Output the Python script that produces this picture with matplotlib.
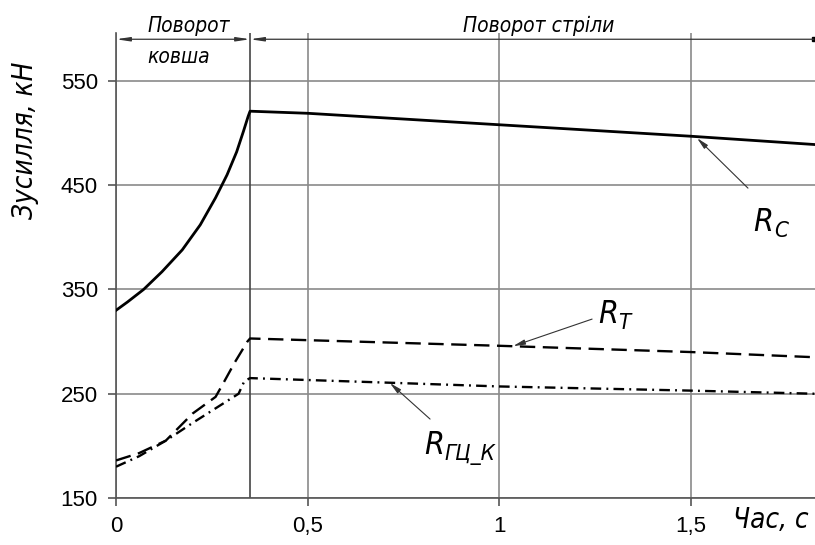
import matplotlib.pyplot as plt
from matplotlib import font_manager

# ---- data ----
t_rc = [0, 0.03, 0.072, 0.12, 0.173, 0.22, 0.26, 0.29, 0.315, 0.333, 0.345, 0.35, 0.5, 1.0, 1.5, 1.825]
r_c = [330, 338, 350, 367, 388, 412, 438, 460, 482, 502, 516, 521, 519, 508, 497, 489]

t_rt = [0, 0.06, 0.13, 0.2, 0.26, 0.28, 0.31, 0.343, 0.35, 1.0, 1.5, 1.825]
r_t = [186, 193, 205, 231, 247, 260, 280, 300, 303, 296, 290, 285]

t_rk = [0, 0.06, 0.13, 0.2, 0.26, 0.32, 0.335, 0.35, 0.72, 1.0, 1.5, 1.825]
r_k = [180, 190, 205, 222, 236, 250, 262, 265, 260.5, 257, 253, 250]

x_ticks = [0, 0.5, 1, 1.5]
x_labels = ["0", "0,5", "1", "1,5"]
y_ticks = [150, 250, 350, 450, 550]
t_switch = 0.35

# narrow italic "drafting" font, if a narrow family is there
names = {f.name for f in font_manager.fontManager.ttflist}
if "Liberation Sans Narrow" in names:
    hand = dict(family="Liberation Sans Narrow", style="italic")
else:
    hand = dict(family="DejaVu Sans", stretch="condensed", style="italic")

fig = plt.figure(figsize=(8.15, 5.45), dpi=100)
ax = fig.add_axes([116 / 815, 47 / 545, 699 / 815, 465 / 545])
ax.set_xlim(0, 1.825)
ax.set_ylim(150, 596)

grid_c = "#8a8a8a"
ax.set_xticks(x_ticks)
ax.set_xticklabels(x_labels)
ax.set_yticks(y_ticks)
ax.grid(True, color=grid_c, lw=1.2)
for s in ["top", "right"]:
    ax.spines[s].set_visible(False)
for s in ["left", "bottom"]:
    ax.spines[s].set_color("#555555")
    ax.spines[s].set_linewidth(1.2)
ax.tick_params(direction="out", length=6, width=1.2, color="#555555",
               labelsize=16, pad=7)
for lab in ax.get_xticklabels() + ax.get_yticklabels():
    lab.set_family("Liberation Sans")

# boundary between phases
ax.axvline(t_switch, color="#444444", lw=1.2, zorder=2)

# curves
ax.plot(t_rc, r_c, color="black", lw=2.0, zorder=3)
ln_t, = ax.plot(t_rt, r_t, color="black", lw=1.7, zorder=3)
ln_t.set_dashes([6.5, 3.2])
ln_k, = ax.plot(t_rk, r_k, color="black", lw=1.7, zorder=3)
ln_k.set_dashes([4.5, 2.2, 0.8, 2.2])

# leader arrows
arr = dict(arrowstyle="-|>,head_length=0.7,head_width=0.15", color="#333333",
           lw=0.8, shrinkA=0, shrinkB=0)
ax.annotate("", xy=(1.517, 495.2), xytext=(1.650, 447.2), arrowprops=arr)
ax.annotate("", xy=(1.037, 295.7), xytext=(1.243, 321.6), arrowprops=arr)
ax.annotate("", xy=(0.715, 260.3), xytext=(0.820, 225.7), arrowprops=arr)

# curve labels
ax.text(1.665, 414, "R", fontsize=23, va="center", **hand)
ax.text(1.718, 406, "C", fontsize=16, va="center", **hand)
ax.text(1.258, 326, "R", fontsize=23, va="center", **hand)
ax.text(1.311, 318, "T", fontsize=16, va="center", **hand)
ax.text(0.805, 200, "R", fontsize=23, va="center", **hand)
ax.text(0.858, 192, "ГЦ_К", fontsize=16, va="center", **hand)

# dimension lines on top
dim = dict(arrowstyle="<|-|>,head_length=0.8,head_width=0.12", color="#333333",
           lw=0.9, shrinkA=0, shrinkB=0)
ax.annotate("", xy=(0, 590), xytext=(t_switch, 590), arrowprops=dim,
            annotation_clip=False)
dim2 = dict(arrowstyle="-|>,head_length=0.8,head_width=0.12", color="#333333",
            lw=0.9, shrinkA=0, shrinkB=0)
ax.annotate("", xy=(t_switch, 590), xytext=(1.822, 590), arrowprops=dim2,
            annotation_clip=False)
ax.plot([1.822], [590], marker="s", ms=3, color="black", clip_on=False)

ax.text(0.081, 597, "Поворот", fontsize=15, va="baseline", clip_on=False, **hand)
ax.text(0.081, 567, "ковша", fontsize=15, va="baseline", clip_on=False, **hand)
ax.text(0.906, 597, "Поворот стріли", fontsize=15, va="baseline", clip_on=False, **hand)

# axis titles
fig.text(25 / 815, 1 - 140 / 545, "Зусилля, кН", rotation=90, fontsize=20,
         ha="center", va="center", **hand)
fig.text(771 / 815, 1 - 520 / 545, "Час, с", fontsize=20,
         ha="center", va="center", **hand)

fig.savefig("out.png", dpi=100)
